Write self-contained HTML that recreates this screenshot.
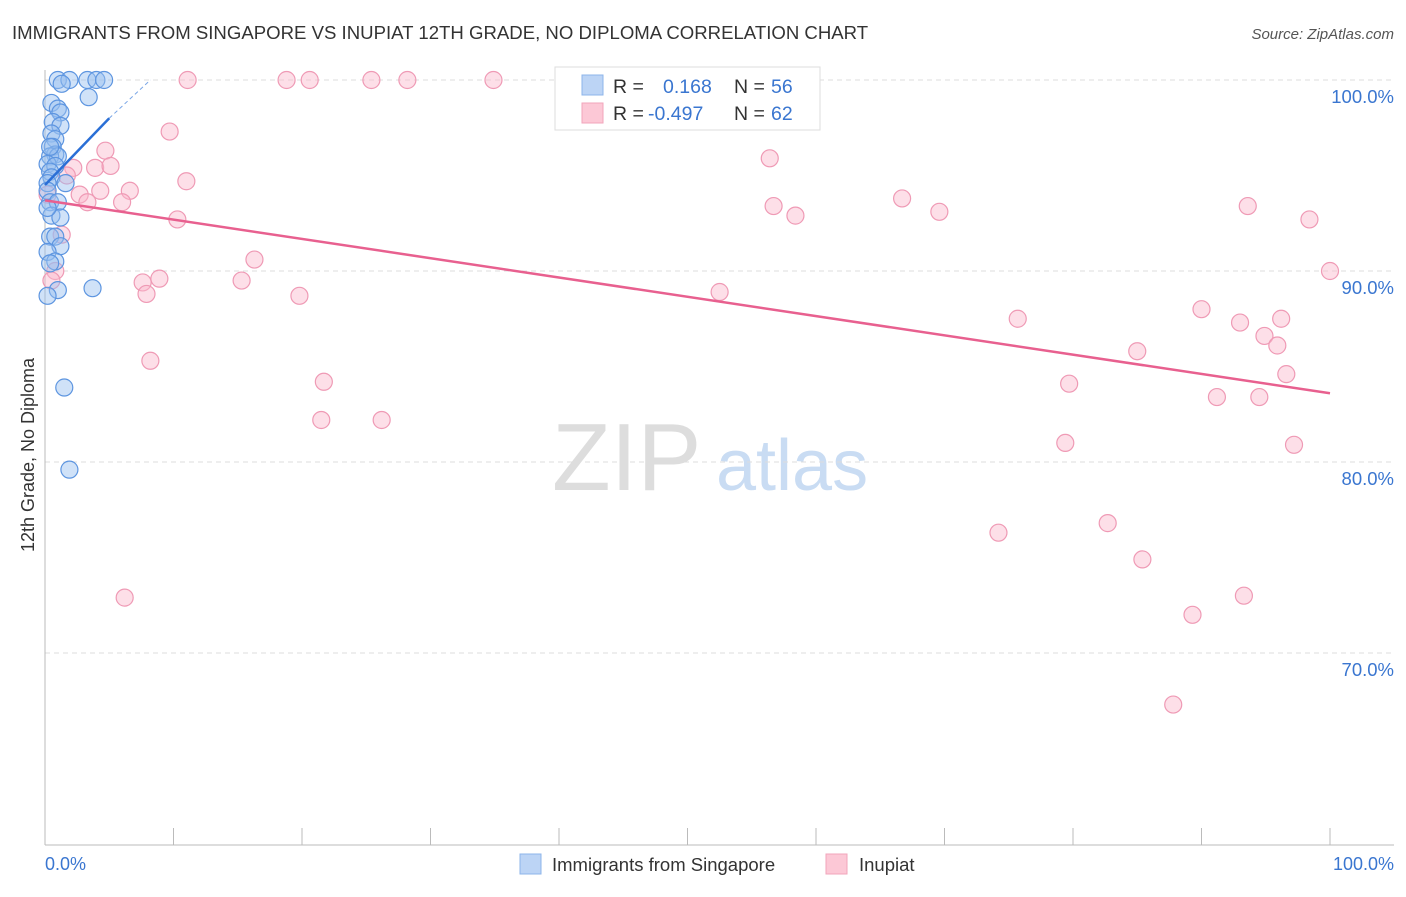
<!DOCTYPE html>
<html><head><meta charset="utf-8"><style>
body{margin:0;background:#fff;font-family:"Liberation Sans",sans-serif;}
svg text{font-family:"Liberation Sans",sans-serif;}
</style></head><body>
<svg id="chart" width="1406" height="892">
<text x="12" y="39" font-size="18.6" fill="#333">IMMIGRANTS FROM SINGAPORE VS INUPIAT 12TH GRADE, NO DIPLOMA CORRELATION CHART</text>
<text x="1394" y="39" font-size="15" fill="#555" font-style="italic" text-anchor="end">Source: ZipAtlas.com</text>
<g><text x="552" y="490" font-size="96" fill="#ddd" font-family="Liberation Serif,serif">ZIP</text><text x="716" y="490" font-size="72" fill="#c9dcf3">atlas</text></g>
<g id="grid"></g><g id="pts"></g><g id="lines"></g>
<text transform="translate(34,455) rotate(-90)" font-size="18" fill="#333" text-anchor="middle">12th Grade, No Diploma</text>
<text x="45" y="870" font-size="18" fill="#3a76d0">0.0%</text>
<text x="1394" y="870" font-size="18" fill="#3a76d0" text-anchor="end">100.0%</text>
<g>
<rect x="555" y="67" width="265" height="63" fill="#fff" stroke="#ddd"/>
<rect x="582" y="75" width="21" height="20" fill="#bcd4f5" stroke="#8db4ea"/>
<rect x="582" y="103" width="21" height="20" fill="#fcc8d6" stroke="#f2a5bb"/>
<text x="613" y="93" font-size="19.5" fill="#333">R = </text><text x="663" y="93" font-size="19.5" fill="#3a76d0">0.168</text>
<text x="734" y="93" font-size="19.5" fill="#333">N = </text><text x="771" y="93" font-size="19.5" fill="#3a76d0">56</text>
<text x="613" y="120" font-size="19.5" fill="#333">R = </text><text x="648" y="120" font-size="19.5" fill="#3a76d0">-0.497</text>
<text x="734" y="120" font-size="19.5" fill="#333">N = </text><text x="771" y="120" font-size="19.5" fill="#3a76d0">62</text>
</g>
<g>
<rect x="520" y="854" width="21" height="20" fill="#bcd4f5" stroke="#8db4ea"/>
<text x="552" y="871" font-size="18.5" fill="#333">Immigrants from Singapore</text>
<rect x="826" y="854" width="21" height="20" fill="#fcc8d6" stroke="#f2a5bb"/>
<text x="859" y="871" font-size="18.5" fill="#333">Inupiat</text>
</g>
</svg>
<script>
const yTicks=[100,90,80,70];
const yTickLabels=["100.0%","90.0%","80.0%","70.0%"];
const blueX=[1.0,1.9,3.3,4.0,4.6,1.3,3.4,0.5,1.0,1.2,0.6,1.2,0.5,0.8,0.6,0.8,0.4,1.0,0.2,0.8,0.4,0.5,0.2,1.6,0.2,0.4,1.0,0.5,1.2,0.4,0.8,1.2,0.2,0.8,0.4,1.0,0.2,3.7,1.5,1.9,0.4,0.2];
const blueY=[100,100,100,100,100,99.8,99.1,98.8,98.5,98.3,97.8,97.6,97.2,96.9,96.5,96.1,96.0,96.0,95.6,95.5,95.2,94.9,94.6,94.6,94.2,93.6,93.6,92.9,92.8,91.8,91.8,91.3,91.0,90.5,90.4,89.0,88.7,89.1,83.9,79.6,96.5,93.3];
const pinkX=[47.1,11.1,18.8,20.6,25.4,28.2,34.9,9.7,4.7,2.2,3.9,5.1,1.7,11.0,6.6,4.3,2.7,3.3,6.0,10.3,0.2,1.3,0.8,0.5,16.3,7.6,8.9,15.3,7.9,19.8,8.2,21.7,21.5,26.2,6.2,56.4,56.7,58.4,66.7,69.6,93.6,98.4,100,52.5,75.7,90.0,93.0,94.9,96.2,95.9,96.6,85.0,79.7,91.2,94.5,79.4,97.2,74.2,82.7,85.4,89.3,93.3,87.8];
const pinkY=[100,100,100,100,100,100,100,97.3,96.3,95.4,95.4,95.5,95.0,94.7,94.2,94.2,94.0,93.6,93.6,92.7,94.0,91.9,90.0,89.5,90.6,89.4,89.6,89.5,88.8,88.7,85.3,84.2,82.2,82.2,72.9,95.9,93.4,92.9,93.8,93.1,93.4,92.7,90.0,88.9,87.5,88.0,87.3,86.6,87.5,86.1,84.6,85.8,84.1,83.4,83.4,81.0,80.9,76.3,76.8,74.9,72.0,73.0,67.3];
const blueTrend=[[0,94.5],[5,98.0],[8.2,100]];
const pinkTrend=[[0,93.7],[100,83.6]];
const X=v=>45+v*12.85, Y=v=>80+(100-v)*19.1;
const NS="http://www.w3.org/2000/svg";
function mk(t,a,p){const e=document.createElementNS(NS,t);for(const k in a)e.setAttribute(k,a[k]);p.appendChild(e);return e;}
const grid=document.getElementById('grid');
yTicks.forEach((t,i)=>{
 const l=mk('line',{x1:45,x2:1394,y1:Y(t),y2:Y(t),stroke:'#ddd','stroke-dasharray':'5,4'},grid);
 
 
 const tx=mk('text',{x:1394,y:Y(t)+23,'font-size':18.5,fill:'#3a76d0','text-anchor':'end'},grid);
 tx.textContent=yTickLabels[i];
 
 
});
const ax=mk('line',{x1:45,x2:45,y1:70,y2:845,stroke:'#bbb'},grid);


const bx=mk('line',{x1:45,x2:1394,y1:845,y2:845,stroke:'#bbb'},grid);


for(let i=1;i<=10;i++){const t=mk('line',{x1:X(i*10),x2:X(i*10),y1:828,y2:845,stroke:'#bbb'},grid);
 
 }
const pts=document.getElementById('pts');
pinkX.forEach((x,i)=>{const c=mk('circle',{cx:X(x),cy:Y(pinkY[i]),r:8.5,fill:'rgba(250,185,205,0.45)',stroke:'#ef9ab5','stroke-width':1.2},pts);
 
 });
blueX.forEach((x,i)=>{const c=mk('circle',{cx:X(x),cy:Y(blueY[i]),r:8.5,fill:'rgba(150,190,240,0.45)',stroke:'#5d95e0','stroke-width':1.2},pts);
 
 });
const ln=document.getElementById('lines');
const b1=mk('line',{x1:X(blueTrend[0][0]),y1:Y(blueTrend[0][1]),x2:X(blueTrend[1][0]),y2:Y(blueTrend[1][1]),stroke:'#2a6fd6','stroke-width':2.5},ln);


const b2=mk('line',{x1:X(blueTrend[1][0]),y1:Y(blueTrend[1][1]),x2:X(blueTrend[2][0]),y2:Y(blueTrend[2][1]),stroke:'#7aa6e6','stroke-width':1,'stroke-dasharray':'4,3'},ln);


const p1=mk('line',{x1:X(pinkTrend[0][0]),y1:Y(pinkTrend[0][1]),x2:X(pinkTrend[1][0]),y2:Y(pinkTrend[1][1]),stroke:'#e8608f','stroke-width':2.5},ln);


</script>
</body></html>
